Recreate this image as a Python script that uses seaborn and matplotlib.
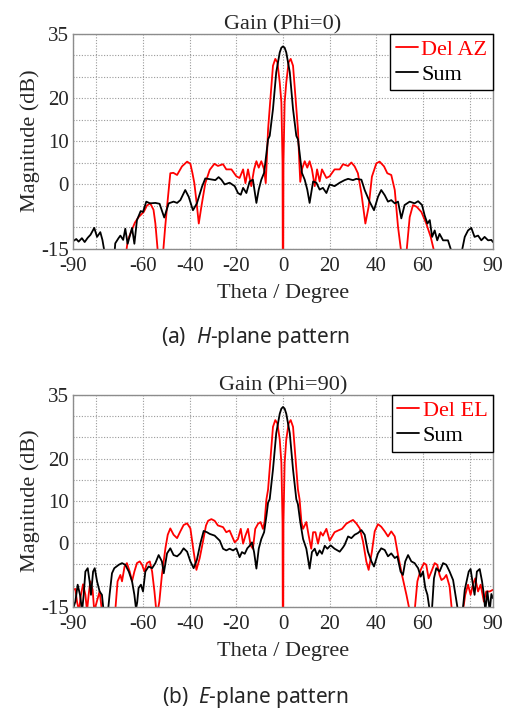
import numpy as np
import pandas as pd
import matplotlib
matplotlib.use("Agg")
import matplotlib.pyplot as plt
import seaborn as sns
from matplotlib.ticker import FixedLocator

# ---------------- datos ----------------
# (a) plano H, Phi=0
theta_h_del = [-68, -67.5, -66.5, -65, -63.5, -61.9, -59.7, -58.3, -56.9, -55.5, -54.7, -53.7, -52.5,
               -51.4, -50.5, -49.7, -48.3, -47, -45.4, -43.3, -41.1, -39.7, -38.8, -38, -37, -36.1,
               -35, -33.3, -31.4, -29.4, -27.9, -25.7, -24.3, -22.1, -20, -18.6, -17.1, -16.1, -15,
               -13.6, -12.4, -11.4, -10.4, -9.3, -8.1, -7.4, -7.0, -6.4, -5.3, -4.3, -3.3, -2.4,
               -1.4, -0.7, -0.2, 0, 0.2, 0.7, 1.4, 2.4, 3.3, 4.3, 5.3, 6.4, 7.0, 7.4, 8.1, 9.3,
               10.4, 11.4, 12.4, 13.6, 14.6, 15.7, 16.7, 18.6, 20, 22.1, 24.3, 25.7, 27.9, 29.3,
               30.7, 32.1, 33.6, 35.3, 36.7, 38.1, 40, 41.4, 43.3, 44.7, 46.4, 47.9, 49.3, 50.7,
               51.8, 52.9, 54.3, 55.7, 57.3, 59.3, 61.4, 63.3, 64.7, 66]
del_az = [-22, -17, -13, -11, -9, -7.7, -6.5, -5.0, -4.5, -6.0, -9.2, -15.5, -22,
          -16, -10, -5.3, 2.5, 2.6, 2.1, 4.1, 5.2, 4.7, 2.5, 0.2, -4.5, -9.2,
          -5.3, 0.2, 3.3, 4.7, 4.2, 4.6, 3.4, 3.4, 1.8, 1.4, 3.4, 0.2, 3.4,
          -0.5, 3.4, 5.3, 3.8, 5.3, 3.4, 0.2, 5, 12.7, 20.5, 27.5, 29.1, 28.3,
          23.6, 19, 5, -40, 5, 19, 23.6, 28.3, 29.1, 27.5, 20.5, 12.7, 5, 0.5, 3.4, 5.3,
          3.8, 5.3, 3.4, -0.5, 3.4, 0.6, 3.4, 1.4, 1.8, 3.4, 3.4, 4.6, 4.2, 5.0,
          4.1, 2.5, -2.2, -9.2, -5.3, 1.7, 4.8, 5.2, 4.1, 2.5, 2.1, -1.4, -10, -16,
          -22, -16, -7.7, -4.9, -5.3, -6.5, -9.2, -12.3, -15.5, -22]

theta_h_sum = [-90, -88.6, -87.6, -86.2, -85, -83.7, -82.5, -80.9, -79.7, -78.3, -77.4, -76.6, -75.5,
               -73, -71.9, -70.5, -69.7, -68.5, -67.6, -66.6, -64.7, -63.7, -62.6, -61, -60, -58.6,
               -57, -54.7, -52.9, -50.9, -49, -46.9, -45.4, -44, -41.9, -40.4, -38.6, -36.9, -34.7,
               -33.3, -31.2, -29, -27.6, -26.4, -25, -22.9, -20.7, -19.3, -18.1, -17.1, -15.7, -14.3,
               -12.9, -11.4, -10.4, -9.3, -8.1, -7.1, -6.4, -5.7, -4.3, -2.9, -1.4, -0.7, 0, 0.7,
               1.4, 2.9, 4.3, 5.7, 6.4, 7.1, 8.1, 9.3, 10.4, 11.4, 12.9, 14.3, 15.7, 17.1, 18.6,
               20, 22.1, 24.3, 26.4, 27.9, 30, 31.4, 33.6, 35, 37.1, 39, 40.7, 42.1, 43.6, 45,
               46.4, 47.9, 49.3, 50.7, 52.1, 54.3, 56.4, 57.9, 59.6, 60.7, 61.9, 62.9, 63.9, 65,
               66.1, 67.1, 68.6, 70.7, 72.1, 73.5, 75.5, 76.7, 77.9, 79.3, 80.7, 82.1, 83.6, 85,
               86.4, 87.9, 89.3, 90]
sum_h = [-13.3, -12.8, -13.4, -12.6, -13.5, -12.5, -11.8, -10.2, -12.3, -11.2, -13, -15.5, -22,
         -22, -13.8, -12.6, -12, -13, -10.4, -13.9, -10.2, -13.9, -8.4, -6.3, -6.5, -4.1,
         -4.5, -4.4, -4.6, -7.8, -4.5, -4.1, -4.4, -3.75, -1.4, -3.0, -6.1, -4.5, -0.6,
         1.3, 1.1, 0.9, 1.6, 1.0, -0.1, 0.3, -0.5, -2.1, -2.5, -0.9, -2.1, 0.6,
         1.0, -4.4, -1.3, 1.0, 2.6, 7.3, 10.4, 11.2, 17.4, 26, 30.6, 31.7, 32.0, 31.7,
         30.6, 26, 17.4, 11.2, 10.4, 7.3, 2.6, 1.0, -1.3, -4.4, 0.6, 0.3, -1.3, -0.9, -2.1,
         -0.1, -0.5, 0.3, 0.9, 1.2, 0.9, 1.2, 1.0, -1.4, -4.1, -6.1, -3.0, -1.4, -2.6, -4.1,
         -3.75, -4.5, -4.1, -8.0, -4.9, -4.1, -4.5, -4.0, -4.9, -7.3, -9.2, -8.4, -12.3, -10.8,
         -13.1, -11.6, -13.1, -13.1, -15.5, -22, -22, -15.5, -12.3, -10.8, -10.2, -12.3, -12, -13.1,
         -12.3, -13.1, -13, -13.5]

# (b) plano E, Phi=90
theta_e_del = [-90, -89, -88.3, -87.4, -86.7, -85.7, -84.7, -84, -83.3, -82.6, -81.6, -80.9, -79.9,
               -78.6, -77.6, -76, -73, -71.9, -70.9, -69.7, -69, -67.9, -66.9, -65.7, -64.7, -63.7,
               -62.6, -61.4, -60.4, -59.4, -58.3, -57.1, -56.1, -55.1, -54.3, -53.7, -53, -51.9,
               -50.4, -49.4, -48.3, -46.9, -45.4, -44, -42.6, -41.1, -39.7, -38.3, -37.1, -35.7,
               -34.3, -33, -32.1, -30.7, -29.3, -27.9, -25.7, -24.3, -22.9, -20.7, -19.3, -18.1,
               -17.1, -16.1, -15, -13.9, -12.9, -11.9, -10.7, -9.6, -8.6, -7.9, -7.1, -6.4, -5.3,
               -4.3, -3.3, -2.4, -1.4, -0.7, -0.2, 0, 0.2, 0.7, 1.4, 2.4, 3.3, 4.3, 5.3, 6.4, 7.1,
               7.9, 8.6, 10, 11.0, 12.1, 12.9, 13.9, 15, 16.1, 17.1, 18.6, 20, 22.1, 23.6, 25.3,
               27.1, 28.6, 30, 31.4, 32.9, 34.3, 35.7, 36.7, 38.1, 39.3, 40.7, 42.1, 43.6, 45,
               46.4, 47.9, 49.3, 51, 52.9, 54.3, 55.4, 56.4, 57.6, 59, 60.4, 61.4, 62.4, 63.6, 65,
               66.1, 67.1, 67.9, 69, 70, 71.4, 72.4, 73.5, 76, 77.1, 78.1, 79.3, 80.4, 81.4, 82.4,
               83.6, 84.7, 86.1, 87.1, 88.6, 90]
del_el = [-11, -10.8, -13.8, -16, -12.5, -9.7, -12.2, -16, -12.2, -9, -11, -16, -14,
          -11.4, -16, -22, -22, -16, -9, -7.5, -9, -5.5, -4.7, -6.7, -9, -6.7,
          -4.7, -4.3, -5.1, -6.7, -4.7, -4.3, -6.7, -11.4, -16, -16, -13.8, -7.5,
          -1.2, 2.0, 3.5, 2.0, 1.2, 2.8, 4.3, 4.7, 3.5, -2.0, -6.3, -3.5,
          0.4, 4.2, 5.3, 5.7, 5.3, 4.2, 3.8, 2.6, 3.0, 0.2, 1.0, 3.4,
          -0.1, 1.8, 3.4, -0.5, -1.3, 3.4, 4.6, 5.0, 3.4, 5.0, 10.4, 12.7, 20.5,
          27.5, 29.1, 28.3, 24.5, 19, 5, -40, 5, 19, 24.5, 28.3, 29.1, 27.5, 20.5, 12.7, 10.4,
          5.0, 3.4, 5.0, 1.8, -1.3, 2.6, 2.6, -0.1, 2.6, 1.8, 3.4, 0.6, 2.6, 3.0, 3.4,
          4.6, 5.1, 5.5, 4.7, 3.5, 0.4, -4.3, -6.3, -2.0, 2.8, 4.5, 3.9, 2.8, 1.6,
          2.8, 1.6, -2.8, -7.5, -12.2, -16, -22, -16, -9, -6.3, -4.7, -5.1, -8.3, -6.7, -4.7,
          -5.1, -7.5, -8.7, -8.3, -7.5, -10.2, -16, -22, -22, -16, -12.2, -9.8, -12.2, -9.8, -8.3,
          -11.4, -9.8, -13.8, -11.4, -11.4, -11]

theta_e_sum = [-90, -89.7, -89, -88, -87, -86.1, -85.4, -84.7, -83.7, -82.9, -82.3, -81.4, -80.7,
               -79.7, -78.6, -77.6, -76.9, -75.5, -75, -74.3, -73.3, -72.3, -70.4, -69, -67.6,
               -66.1, -64.7, -63.7, -63, -62.5, -61.9, -60.9, -60, -59, -57.6, -56.1, -54.7, -53.3,
               -51.9, -51.1, -49.7, -48.3, -46.9, -45.4, -44, -42.6, -41.1, -39.7, -38.3, -36.9,
               -35.4, -34, -32.6, -31.4, -29.3, -27.1, -25.7, -24.3, -22.9, -21.4, -20, -18.6,
               -17.6, -16.4, -15.3, -14.3, -13.3, -12.4, -11.4, -10.4, -9.3, -8.1, -7.1, -6.4,
               -5.7, -4.3, -2.9, -1.4, -0.7, 0, 0.7, 1.4, 2.9, 4.3, 5.7, 6.4, 7.4, 8.6, 10, 11.4,
               12.4, 13.6, 14.6, 15.7, 16.7, 17.9, 19, 20.4, 22.1, 24.3, 25.7, 26.4, 27.9, 29.3,
               30.7, 32.1, 33.6, 35, 36.4, 37.9, 39, 40.7, 42.1, 43.6, 45, 46.4, 47.9, 49, 50.4,
               51.4, 52.4, 53.6, 55, 56.4, 57.9, 59, 60, 61, 61.9, 62.9, 63.8, 64.7, 65.7, 67.1,
               68.6, 70, 71.4, 72.9, 73.9, 75, 76, 77, 77.9, 79.6, 80.4, 81.4, 82.1, 83.1, 84.3,
               85.3, 86.1, 86.7, 87.6, 88.6, 89.3, 90]
sum_e = [-16, -15, -13.8, -9.8, -12.2, -16, -12, -6.7, -5.9, -9, -12.2, -6.7, -5.9,
         -9, -11.4, -12.2, -16, -22, -16, -12, -7.1, -5.9, -5.1, -4.7, -5.1,
         -6.7, -9, -12.2, -15.5, -14, -10.6, -9.8, -11.4, -6.7, -5.5, -5.9, -4.7, -2.8,
         -4.3, -7.1, -2.4, -1.2, -2.8, -3.1, -2.4, -1.2, -2.0, -4.3, -5.9, -3.9,
         0, 2.9, 2.6, 2.2, 1.8, 0.6, -1.3, -1.7, -1.3, -1.7, -1.2, -3.3,
         -2.1, -2.5, -1.2, -0.6, 0.2, -2.1, -6.0, -1.3, 1.0, 2.6, 6.5, 9.6,
         10.4, 17.4, 26, 30.6, 31.8, 32.2, 31.8, 30.6, 26, 17.4, 10.4, 9.2, 5.0, 1.0, -1.3, -6.0,
         -2.1, -1.3, -2.9, -1.7, -2.5, -0.6, -1.3, -0.5, -1.3, -2.0, -1.0, -0.4, 1.6, 1.2,
         2.0, 2.4, 3.1, 2.0, -2.0, -4.3, -5.5, -2.4, -1.2, -1.6, -3.1, -2.4, -3.5, -3.1, -6.7,
         -7.5, -4.3, -2.8, -4.3, -4.7, -5.9, -7.9, -6.7, -10.6, -12.2, -16, -16, -8.3, -5.9, -6.7,
         -4.7, -5.1, -6.7, -8.7, -12.2, -16, -22, -16, -11, -6.7, -6.1, -9.8, -12.2, -6.7, -6.1,
         -9, -12.2, -16, -11.4, -16, -12, -13]

x_ticks = [-90, -60, -40, -20, 0, 20, 40, 60, 90]
x_grid = [-80, 80]
y_ticks = [-15, 0, 10, 20, 35]
y_grid = [-10, -5, 5, 15, 25, 30]

# ---------------- estilo ----------------
sns.set_style("white")
plt.rcParams["font.family"] = ["Liberation Serif", "DejaVu Serif"]
plt.rcParams["axes.unicode_minus"] = False
plt.rcParams["mathtext.fontset"] = "custom"
plt.rcParams["mathtext.it"] = "Noto Sans:italic"
plt.rcParams["mathtext.rm"] = "Noto Sans"

fig = plt.figure(figsize=(5.06, 7.1), dpi=100)
ax1 = fig.add_axes([0.1443, 0.650, 0.830, 0.3028])
ax2 = fig.add_axes([0.1443, 0.1455, 0.830, 0.298])

paneles = [
    (ax1, theta_h_del, del_az, "Del AZ", theta_h_sum, sum_h, "Gain (Phi=0)"),
    (ax2, theta_e_del, del_el, "Del EL", theta_e_sum, sum_e, "Gain (Phi=90)"),
]

FS = 16

for ax, td, vd, lab_d, ts, vs, titulo in paneles:
    sns.lineplot(x=td, y=vd, ax=ax, color="#ff0000", lw=1.3, label=lab_d,
                 sort=False, estimator=None)
    sns.lineplot(x=ts, y=vs, ax=ax, color="black", lw=1.3, label="Sum",
                 sort=False, estimator=None)
    ax.set_xlim(-90, 90)
    ax.set_ylim(-15, 35)
    ax.set_xticks(x_ticks)
    ax.set_yticks(y_ticks)
    ax.xaxis.set_minor_locator(FixedLocator(x_grid))
    ax.yaxis.set_minor_locator(FixedLocator(y_grid))
    ax.grid(True, which="both", color="#9a9a9a", linestyle=(0, (1, 1.5)), linewidth=0.8)
    ax.tick_params(which="both", length=0, labelsize=15)
    ax.tick_params(axis="x", pad=6)
    ax.tick_params(axis="y", pad=3)
    for s in ax.spines.values():
        s.set_color("#8c8c8c")
        s.set_linewidth(1.0)
    ax.set_xlabel("Theta / Degree", fontsize=FS, labelpad=6)
    ax.set_ylabel("Magnitude (dB)", fontsize=FS, labelpad=1)
    ax.set_title(titulo, fontsize=FS, pad=3)
    leg = ax.legend(loc="upper right", borderaxespad=0, fancybox=False, framealpha=1,
                    edgecolor="black", fontsize=FS, handlelength=1.0, handletextpad=0.15,
                    labelcolor="linecolor", borderpad=0.25, labelspacing=0.2)
    leg.get_frame().set_linewidth(1.0)

fig.text(0.505, 1 - 337 / 710, "(a)  $\\mathit{H}$-plane pattern", ha="center", va="center",
         fontsize=15, family="Noto Sans")
fig.text(0.505, 1 - 697 / 710, "(b)  $\\mathit{E}$-plane pattern", ha="center", va="center",
         fontsize=15, family="Noto Sans")

fig.savefig("out.png", dpi=100, facecolor="white")
